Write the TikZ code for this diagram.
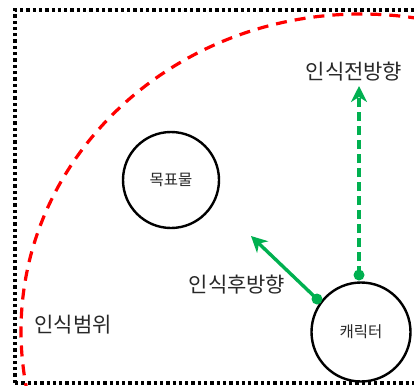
\documentclass[tikz,border=0pt]{standalone}
\usepackage{fontspec}
\newfontfamily\kr{Noto Sans CJK KR}
\usetikzlibrary{arrows.meta}
\definecolor{ggreen}{RGB}{0,176,80}
\definecolor{txt}{RGB}{40,40,40}
\tikzset{
  circ/.style={draw=black, line width=2.4pt, circle, inner sep=0pt},
  lbl/.style={font=\kr\fontsize{21}{24}\selectfont, text=txt, inner sep=0pt},
  smalllbl/.style={font=\kr\fontsize{15.5}{18}\selectfont, text=txt},
  gdot/.style={circle, fill=ggreen, inner sep=0pt, minimum size=11pt},
  garrow/.style={draw=ggreen, line width=3.4pt, -{Stealth[length=16pt,width=16pt,inset=5pt]}},
  framebox/.style={draw=black, line width=3.5pt, dash pattern=on 3.3pt off 3pt},
  rangeline/.style={draw=red, line width=3.2pt, dash pattern=on 11pt off 8pt}
}
\begin{document}
\begin{tikzpicture}[x=1pt,y=-1pt]
\useasboundingbox (0,0) rectangle (414,385);
\clip (0,0) rectangle (414,385);
\fill[white] (0,0) rectangle (414,385);
% frame
\draw[framebox] (15,383) -- (15,10) -- (420,10);
\draw[framebox] (15,383) -- (420,383);
% range ellipse
\draw[rangeline] (361,331) ellipse [x radius=340, y radius=317];
% circles
\node[circ, minimum size=96pt, smalllbl] (obj) at (171,180) {목표물};
\node[circ, minimum size=99pt, smalllbl] (char) at (361,332) {캐릭터};
% dots and arrows
\node[gdot] (d1) at (359,275) {};
\coordinate (t1) at (359,86);
\draw[garrow, dash pattern=on 9pt off 5pt] (d1.center) -- (t1);
\node[gdot] (d2) at (317,299) {};
\coordinate (t2) at (251,236);
\draw[garrow] (d2.center) -- (t2);
% labels
\node[lbl] (l1) at (354,72) {인식전방향};
\node[lbl] (l2) at (237,285) {인식후방향};
\node[lbl] (l3) at (73,325) {인식범위};
\end{tikzpicture}
\end{document}
